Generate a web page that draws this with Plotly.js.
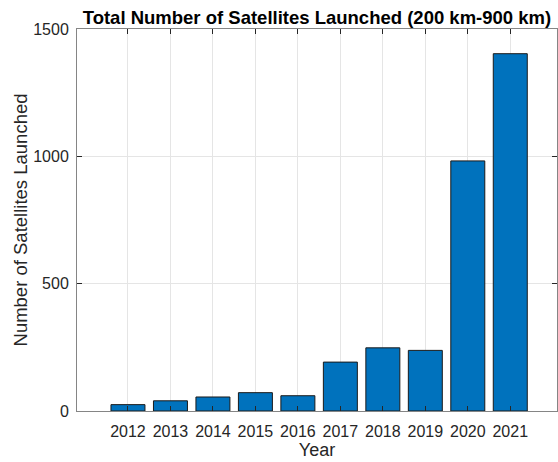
<!DOCTYPE html>
<html>
<head>
<meta charset="utf-8">
<script src="https://cdn.plot.ly/plotly-3.0.1.min.js"></script>
<style>html,body{margin:0;padding:0;background:#fff;}#chart{width:558px;height:462px;}</style>
</head>
<body>
<div id="chart"></div>
<script>
var years = [2012, 2013, 2014, 2015, 2016, 2017, 2018, 2019, 2020, 2021];
var launched = [25, 40, 55, 72, 60, 192, 248, 238, 982, 1403];
var yTicks = [0, 500, 1000, 1500];
var titleText = "Total Number of Satellites Launched (200 km-900 km)";
var xTitle = "Year";
var yTitle = "Number of Satellites Launched";

var font = "Liberation Sans, Arial, Helvetica, sans-serif";
var trace = {
  type: "bar",
  x: years,
  y: launched,
  width: 0.8,
  marker: {color: "#0072BD", line: {color: "#1a1a1a", width: 1}},
  hoverinfo: "x+y"
};
var axisCommon = {
  showline: true, mirror: "ticks", linecolor: "#858585", linewidth: 1,
  ticks: "inside", ticklen: 5, tickcolor: "#262626", tickwidth: 1,
  showgrid: true, gridcolor: "#e5e5e5", gridwidth: 1,
  zeroline: false,
  tickfont: {family: font, size: 16, color: "#262626"}
};
var layout = {
  width: 558, height: 462,
  margin: {l: 77, r: 1, t: 29, b: 50.5, pad: 0},
  paper_bgcolor: "#fff", plot_bgcolor: "#fff",
  title: {text: "<b>" + titleText + "</b>", font: {family: font, size: 18.5, color: "#000"},
          x: 0.568, xanchor: "center", y: 0.963, yanchor: "middle"},
  xaxis: Object.assign({}, axisCommon, {
    range: [2010.8, 2022.1], tickvals: years, ticktext: years.map(String),
    ticklabelstandoff: 6,
    title: {text: xTitle, font: {family: font, size: 18, color: "#262626"}, standoff: 4}
  }),
  yaxis: Object.assign({}, axisCommon, {
    range: [0, 1500], tickvals: yTicks, ticktext: yTicks.map(String),
    ticklabelstandoff: 4,
    title: {text: yTitle, font: {family: font, size: 18.5, color: "#262626"}, standoff: 0}
  }),
  showlegend: false,
  bargap: 0
};
Plotly.newPlot("chart", [trace], layout, {displayModeBar: false, staticPlot: true});
</script>
</body>
</html>
